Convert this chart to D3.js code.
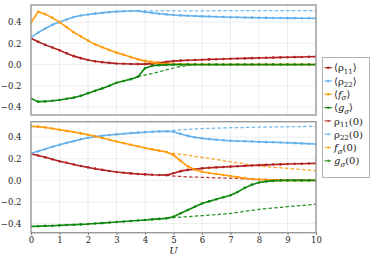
<!DOCTYPE html>
<html>
  <head>
    <meta charset="utf-8">
    <style>
      body { margin: 0; background: #fff; }
      svg text { font-family: "DejaVu Serif", serif; }
    </style>
  </head>
  <body>
    <script src="https://d3js.org/d3.v7.min.js"></script>
    <script>
      // U grid shared by all series
      var U = [0,0.25,0.5,0.75,1,1.25,1.5,1.75,2,2.25,2.5,2.75,3,3.25,3.5,3.75,4,4.25,4.5,4.75,
               5,5.25,5.5,5.75,6,6.25,6.5,6.75,7,7.25,7.5,7.75,8,8.25,8.5,8.75,9,9.25,9.5,9.75,10];
      var xTicks = [0,1,2,3,4,5,6,7,8,9,10];
      var yTicks = [-0.4,-0.2,0,0.2,0.4];

      // top panel, solid <.>
      var topRho11 = [0.247,0.215,0.185,0.16,0.135,0.105,0.079,0.06,0.043,0.03,0.022,0.015,0.01,0.007,0.005,0.004,0.004,0.008,0.015,0.025,
                      0.032,0.037,0.04,0.043,0.045,0.048,0.05,0.052,0.054,0.056,0.058,0.06,0.062,0.064,0.065,0.067,0.068,0.07,0.071,0.073,0.074];
      var topRho22 = [0.255,0.30,0.34,0.375,0.40,0.425,0.447,0.462,0.472,0.48,0.487,0.494,0.499,0.502,0.504,0.505,0.495,0.487,0.479,0.473,
                      0.467,0.463,0.46,0.457,0.454,0.452,0.45,0.448,0.446,0.445,0.443,0.442,0.441,0.44,0.439,0.438,0.437,0.437,0.436,0.436,0.435];
      var topF     = [0.394,0.497,0.475,0.44,0.40,0.352,0.303,0.265,0.225,0.19,0.163,0.137,0.112,0.092,0.07,0.05,0.032,0.02,0.01,0.006,
                      0.003,0.001,0,0,0,0,0,0,0,0,0,0,0,0,0,0,0,0,0,0,0];
      var topG     = [-0.32,-0.35,-0.348,-0.342,-0.334,-0.323,-0.312,-0.295,-0.27,-0.247,-0.225,-0.2,-0.172,-0.155,-0.138,-0.115,-0.035,-0.012,-0.006,-0.003,
                      -0.001,0,0,0,0,0,0,0,0,0,0,0,0,0,0,0,0,0,0,0,0];
      // top panel, dashed (0)
      var topRho11_0 = [null,null,null,null,null,null,null,null,null,null,null,null,null,null,null,null,0.004,0.004,0.003,0.002,
                        0.001,0,0,0,0,0,0,0,0,0,0,0,0,0,0,0,0,0,0,0,0];
      var topRho22_0 = [null,null,null,null,null,null,null,null,null,null,null,null,null,null,null,0.505,0.506,0.506,0.506,0.506,
                        0.506,0.506,0.506,0.506,0.506,0.506,0.507,0.507,0.507,0.507,0.507,0.507,0.507,0.507,0.508,0.508,0.508,0.508,0.508,0.508,0.508];
      var topF_0     = [null,null,null,null,null,null,null,null,null,null,null,null,null,null,null,0.05,0.04,0.03,0.022,0.015,
                        0.01,0.006,0.003,0.001,0,0,0,0,0,0,0,0,0,0,0,0,0,0,0,0,0];
      var topG_0     = [null,null,null,null,null,null,null,null,null,null,null,null,null,null,null,-0.115,-0.1,-0.085,-0.068,-0.05,
                        -0.033,-0.02,-0.01,-0.004,-0.001,0,0,0,0,0,0,0,0,0,0,0,0,0,0,0,0];

      // bottom panel, solid <.>
      var botRho11 = [0.245,0.23,0.213,0.195,0.176,0.162,0.147,0.133,0.12,0.108,0.097,0.086,0.077,0.07,0.064,0.059,0.055,0.051,0.049,0.048,
                      0.065,0.085,0.097,0.103,0.111,0.116,0.12,0.124,0.127,0.131,0.134,0.138,0.141,0.143,0.146,0.148,0.151,0.153,0.154,0.156,0.157];
      var botRho22 = [0.25,0.27,0.29,0.31,0.33,0.347,0.363,0.38,0.395,0.405,0.413,0.42,0.426,0.432,0.437,0.442,0.446,0.45,0.453,0.455,
                      0.45,0.43,0.412,0.398,0.389,0.382,0.376,0.371,0.367,0.364,0.362,0.359,0.357,0.354,0.352,0.35,0.348,0.345,0.342,0.339,0.336];
      var botF     = [0.50,0.497,0.49,0.48,0.469,0.458,0.447,0.435,0.422,0.408,0.392,0.376,0.36,0.345,0.33,0.315,0.30,0.287,0.275,0.262,
                      0.234,0.18,0.13,0.098,0.08,0.068,0.058,0.049,0.04,0.03,0.02,0.013,0.008,0.004,0.002,0,0,0,0,0,0];
      var botG     = [-0.426,-0.425,-0.422,-0.42,-0.417,-0.414,-0.411,-0.408,-0.405,-0.4,-0.396,-0.391,-0.386,-0.381,-0.377,-0.372,-0.367,-0.362,-0.357,-0.352,
                      -0.337,-0.305,-0.275,-0.245,-0.215,-0.195,-0.175,-0.156,-0.138,-0.108,-0.07,-0.04,-0.02,-0.01,-0.005,-0.002,0,0,0,0,0];
      // bottom panel, dashed (0)
      var botRho11_0 = [null,null,null,null,null,null,null,null,null,null,null,null,null,null,null,null,null,null,null,0.048,
                        0.04,0.036,0.032,0.03,0.028,0.025,0.023,0.021,0.019,0.017,0.014,0.012,0.01,0.008,0.007,0.006,0.005,0.004,0.003,0.002,0.002];
      var botRho22_0 = [null,null,null,null,null,null,null,null,null,null,null,null,null,null,null,null,null,null,null,0.455,
                        0.462,0.467,0.472,0.476,0.479,0.481,0.483,0.485,0.487,0.488,0.489,0.491,0.492,0.493,0.494,0.495,0.496,0.497,0.498,0.499,0.5];
      var botF_0     = [null,null,null,null,null,null,null,null,null,null,null,null,null,null,null,null,null,null,null,0.262,
                        0.25,0.241,0.232,0.222,0.213,0.203,0.193,0.182,0.172,0.162,0.152,0.142,0.133,0.127,0.121,0.116,0.111,0.105,0.1,0.094,0.089];
      var botG_0     = [null,null,null,null,null,null,null,null,null,null,null,null,null,null,null,null,null,null,null,-0.352,
                        -0.345,-0.341,-0.337,-0.332,-0.328,-0.323,-0.318,-0.312,-0.306,-0.297,-0.287,-0.278,-0.268,-0.262,-0.256,-0.25,-0.243,-0.238,-0.232,-0.227,-0.222];

      var colors = ["#b22222", "#63b1ec", "#ff9a0a", "#0d870d"];
      var serif = "'DejaVu Serif', serif";

      var svg = d3.select("body").append("svg")
        .attr("width", 374)
        .attr("height", 262);

      var x = d3.scaleLinear().domain([0, 10]).range([31, 316]);

      var panels = [
        { y: d3.scaleLinear().domain([-0.476, 0.561]).range([115, 5]),
          solid: [topRho11, topRho22, topF, topG],
          dashed: [topRho11_0, topRho22_0, topF_0, topG_0],
          xlabels: false },
        { y: d3.scaleLinear().domain([-0.485, 0.543]).range([232.7, 121.7]),
          solid: [botRho11, botRho22, botF, botG],
          dashed: [botRho11_0, botRho22_0, botF_0, botG_0],
          xlabels: true }
      ];

      panels.forEach(function(p, pi){
        var y = p.y;
        var y0 = y.range()[0], y1 = y.range()[1];
        var g = svg.append("g");

        // grid
        g.selectAll(".gx").data(xTicks).enter().append("line")
          .attr("x1", d => x(d)).attr("x2", d => x(d))
          .attr("y1", y0).attr("y2", y1)
          .style("stroke", "#e8e8e8").style("stroke-width", 0.8);
        g.selectAll(".gy").data(yTicks).enter().append("line")
          .attr("x1", x(0)).attr("x2", x(10))
          .attr("y1", d => y(d)).attr("y2", d => y(d))
          .style("stroke", "#e8e8e8").style("stroke-width", 0.8);

        // y axis labels
        var ya = g.append("g")
          .attr("transform", "translate(" + x(0) + ",0)")
          .call(d3.axisLeft(y).tickValues(yTicks).tickSize(0).tickPadding(9.5).tickFormat(d3.format(".1f")));
        ya.select(".domain").remove();
        ya.attr("font-family", serif);
        ya.selectAll("text").attr("font-family", serif).style("font-size", "8.5px").style("fill", "#222");

        // x axis
        if (p.xlabels){
          var xa = g.append("g")
            .attr("transform", "translate(0," + y0 + ")")
            .call(d3.axisBottom(x).tickValues(xTicks).tickSize(2).tickPadding(2.5));
          xa.select(".domain").remove();
          xa.attr("font-family", serif);
          xa.selectAll("line").style("stroke", "#555");
          xa.selectAll("text").attr("font-family", serif).style("font-size", "8.5px").style("fill", "#222");
        }

        var clipId = "clip" + pi;
        svg.append("clipPath").attr("id", clipId).append("rect")
          .attr("x", x(0)).attr("y", y1).attr("width", x(10) - x(0)).attr("height", y0 - y1);

        var plot = g.append("g").attr("clip-path", "url(#" + clipId + ")");

        var line = d3.line()
          .defined(d => d[1] != null)
          .x(d => x(d[0]))
          .y(d => y(d[1]));

        // dashed first
        p.dashed.forEach(function(s, i){
          var pts = U.map((u, k) => [u, s[k]]);
          plot.append("path").datum(pts)
            .attr("d", line)
            .style("fill", "none")
            .style("stroke", colors[i])
            .style("stroke-opacity", 0.9)
            .style("stroke-width", 1.25)
            .style("stroke-dasharray", "3.5,2.2");
        });

        p.solid.forEach(function(s, i){
          var pts = U.map((u, k) => [u, s[k]]);
          plot.append("path").datum(pts)
            .attr("d", line)
            .style("fill", "none")
            .style("stroke", colors[i])
            .style("stroke-width", 1.6);
          plot.selectAll(null).data(pts.filter(d => d[1] != null)).enter().append("circle")
            .attr("cx", d => x(d[0])).attr("cy", d => y(d[1]))
            .attr("r", 1.3)
            .style("fill", colors[i]);
        });

        // frame
        g.append("rect")
          .attr("x", x(0)).attr("y", y1)
          .attr("width", x(10) - x(0)).attr("height", y0 - y1)
          .style("fill", "none").style("stroke", "#9a9a9a").style("stroke-width", 1.4);
      });

      // x label
      svg.append("text")
        .attr("x", x(5)).attr("y", 254)
        .attr("text-anchor", "middle")
        .style("font-size", "10px").style("font-style", "italic").style("fill", "#222")
        .text("U");

      // legend
      var legendNames = [
        { base: "\u27E8\u03C1", sub: "11", tail: "\u27E9", it: false },
        { base: "\u27E8\u03C1", sub: "22", tail: "\u27E9", it: false },
        { base: "\u27E8", ibase: "f", sub: "\u03C3", tail: "\u27E9", it: true },
        { base: "\u27E8", ibase: "g", sub: "\u03C3", tail: "\u27E9", it: true },
        { base: "\u03C1", sub: "11", tail: "(0)", it: false },
        { base: "\u03C1", sub: "22", tail: "(0)", it: false },
        { base: "", ibase: "f", sub: "\u03C3", tail: "(0)", it: true },
        { base: "", ibase: "g", sub: "\u03C3", tail: "(0)", it: true }
      ];

      var lg = svg.append("g");
      lg.append("rect")
        .attr("x", 322.5).attr("y", 57.5).attr("width", 47).attr("height", 120)
        .style("fill", "#fff").style("stroke", "#aaa").style("stroke-width", 0.9);

      legendNames.forEach(function(n, i){
        var cy = 67.7 + i * 13.3;
        var col = colors[i % 4];
        var dashed = i >= 4;
        lg.append("line")
          .attr("x1", 324.5).attr("x2", 332).attr("y1", cy).attr("y2", cy)
          .style("stroke", col).style("stroke-width", 1.2)
          .style("stroke-opacity", dashed ? 0.8 : 1)
          .style("stroke-dasharray", dashed ? "2.5,1.6" : null);
        lg.append("circle").attr("cx", 328.2).attr("cy", cy).attr("r", 1.2)
          .style("fill", col).style("fill-opacity", dashed ? 0.8 : 1);

        var t = lg.append("text")
          .attr("x", 334).attr("y", cy + 3.6)
          .style("font-size", "10px").style("fill", "#222");
        if (n.base) t.append("tspan").text(n.base);
        if (n.ibase) t.append("tspan").style("font-style", "italic").text(n.ibase);
        t.append("tspan").attr("dy", 2.4).style("font-size", "7px")
          .style("font-style", n.it ? "italic" : "normal").text(n.sub);
        t.append("tspan").attr("dy", -2.4).text(n.tail);
      });
    </script>
  </body>
</html>
